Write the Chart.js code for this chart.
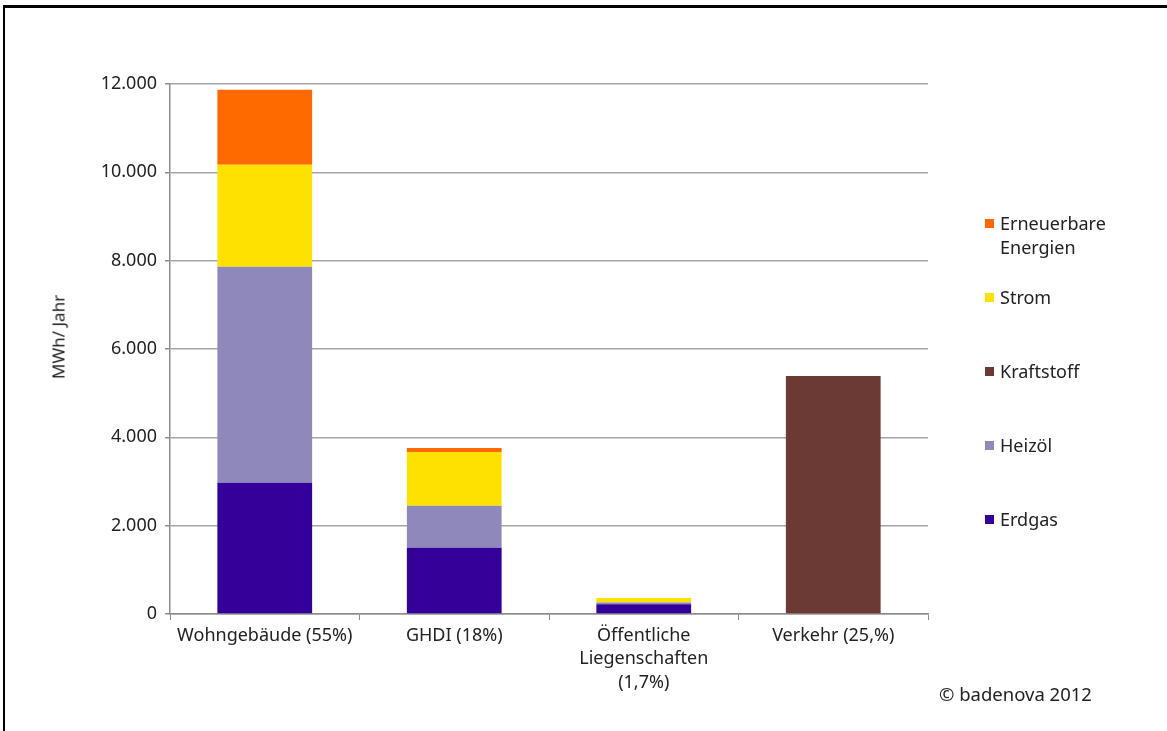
<!DOCTYPE html>
<html lang="de">
<head>
  <meta charset="UTF-8" />
  <title>Energieverbrauch nach Sektoren</title>
  <script src="https://cdn.jsdelivr.net/npm/chart.js@4.4.1/dist/chart.umd.min.js"></script>
  <style>
    body {
      margin: 0;
      background: #fff;
      font-family: "Noto Sans", sans-serif;
      color: #222;
    }
    .frame {
      position: absolute;
      left: 3px;
      top: 5px;
      width: 1170px;
      height: 740px;
      border-left: 2px solid #000;
      border-top: 3px solid #000;
    }
    #wrap {
      position: absolute;
      left: 0;
      top: 0;
      width: 1167px;
      height: 731px;
    }
    .ytitle {
      position: absolute;
      left: 58px;
      top: 337px;
      transform: translate(-50%, -50%) rotate(-90deg);
      font-size: 17px;
      white-space: nowrap;
    }
    .legend {
      position: absolute;
      left: 985px;
      top: 0;
      font-size: 18px;
    }
    .legend .item {
      position: absolute;
      left: 0;
      white-space: nowrap;
      line-height: 24px;
    }
    .legend .sw {
      position: absolute;
      left: 0;
      top: 8px;
      width: 9px;
      height: 9px;
    }
    .legend .txt {
      position: absolute;
      left: 15px;
      top: 0;
    }
    .copy {
      position: absolute;
      left: 939px;
      top: 681px;
      font-size: 18.5px;
      white-space: nowrap;
    }
  </style>
</head>
<body>
  <div class="frame"></div>
  <div id="wrap"><canvas id="chart" width="1167" height="731"></canvas></div>
  <div class="ytitle">MWh/ Jahr</div>
  <div class="legend" id="legend"></div>
  <div class="copy">© badenova 2012</div>

<script>
const categories = [
  "Wohngebäude (55%)",
  "GHDI (18%)",
  ["Öffentliche", "Liegenschaften", "(1,7%)"],
  "Verkehr (25,%)"
];

// Werte in MWh/Jahr
const erdgas      = [2970, 1500, 220, 0];
const heizoel     = [4890, 950, 40, 0];
const kraftstoff  = [0, 0, 0, 5390];
const strom       = [2310, 1220, 100, 0];
const erneuerbar  = [1700, 90, 5, 0];

const yTicks = [0, 2000, 4000, 6000, 8000, 10000, 12000];

const series = [
  { label: "Erdgas", data: erdgas, color: "#330099" },
  { label: "Heizöl", data: heizoel, color: "#8f88bb" },
  { label: "Kraftstoff", data: kraftstoff, color: "#6b3a35" },
  { label: "Strom", data: strom, color: "#ffe100" },
  { label: "Erneuerbare Energien", data: erneuerbar, color: "#ff6a00" }
];

// Legende rechts (von oben nach unten: umgekehrte Stapelreihenfolge)
const legendTops = { "Erneuerbare Energien": 211, "Strom": 285, "Kraftstoff": 359, "Heizöl": 433, "Erdgas": 507 };
const legendEl = document.getElementById('legend');
series.slice().reverse().forEach(s => {
  const item = document.createElement('div');
  item.className = 'item';
  item.style.top = legendTops[s.label] + 'px';
  const txt = s.label === "Erneuerbare Energien" ? "Erneuerbare<br>Energien" : s.label;
  item.innerHTML = `<span class="sw" style="background:${s.color}"></span><span class="txt">${txt}</span>`;
  legendEl.appendChild(item);
});

const axisColor = '#8c8c8c';
const gridColor = '#a6a6a6';
const textColor = '#222';

new Chart(document.getElementById('chart'), {
  type: 'bar',
  data: {
    labels: categories,
    datasets: series.map(s => ({
      label: s.label,
      data: s.data,
      backgroundColor: s.color,
      borderWidth: 0,
      barPercentage: 0.5,
      categoryPercentage: 1.0
    }))
  },
  options: {
    responsive: false,
    animation: false,
    layout: { padding: { left: 0, right: 239, top: 84, bottom: 0 } },
    plugins: {
      legend: { display: false },
      tooltip: { enabled: false }
    },
    scales: {
      x: {
        stacked: true,
        afterFit: s => { s.height = 117; },
        grid: {
          offset: true,
          drawOnChartArea: false,
          drawTicks: true,
          tickLength: 6,
          color: axisColor
        },
        border: { color: axisColor, width: 1.5 },
        ticks: {
          color: textColor,
          font: { family: 'Noto Sans', size: 18, lineHeight: 1.3 },
          padding: 4,
          maxRotation: 0,
          autoSkip: false
        }
      },
      y: {
        stacked: true,
        min: 0,
        max: 12000,
        afterFit: s => { s.width = 170; },
        afterBuildTicks: s => { s.ticks = yTicks.map(v => ({ value: v })); },
        grid: {
          color: gridColor,
          lineWidth: 1.5,
          drawTicks: true,
          tickLength: 5,
          tickColor: axisColor
        },
        border: { color: axisColor, width: 1.5 },
        ticks: {
          color: textColor,
          font: { family: 'Noto Sans', size: 18 },
          padding: 8,
          callback: v => v.toLocaleString('de-DE')
        }
      }
    }
  }
});
</script>
</body>
</html>
